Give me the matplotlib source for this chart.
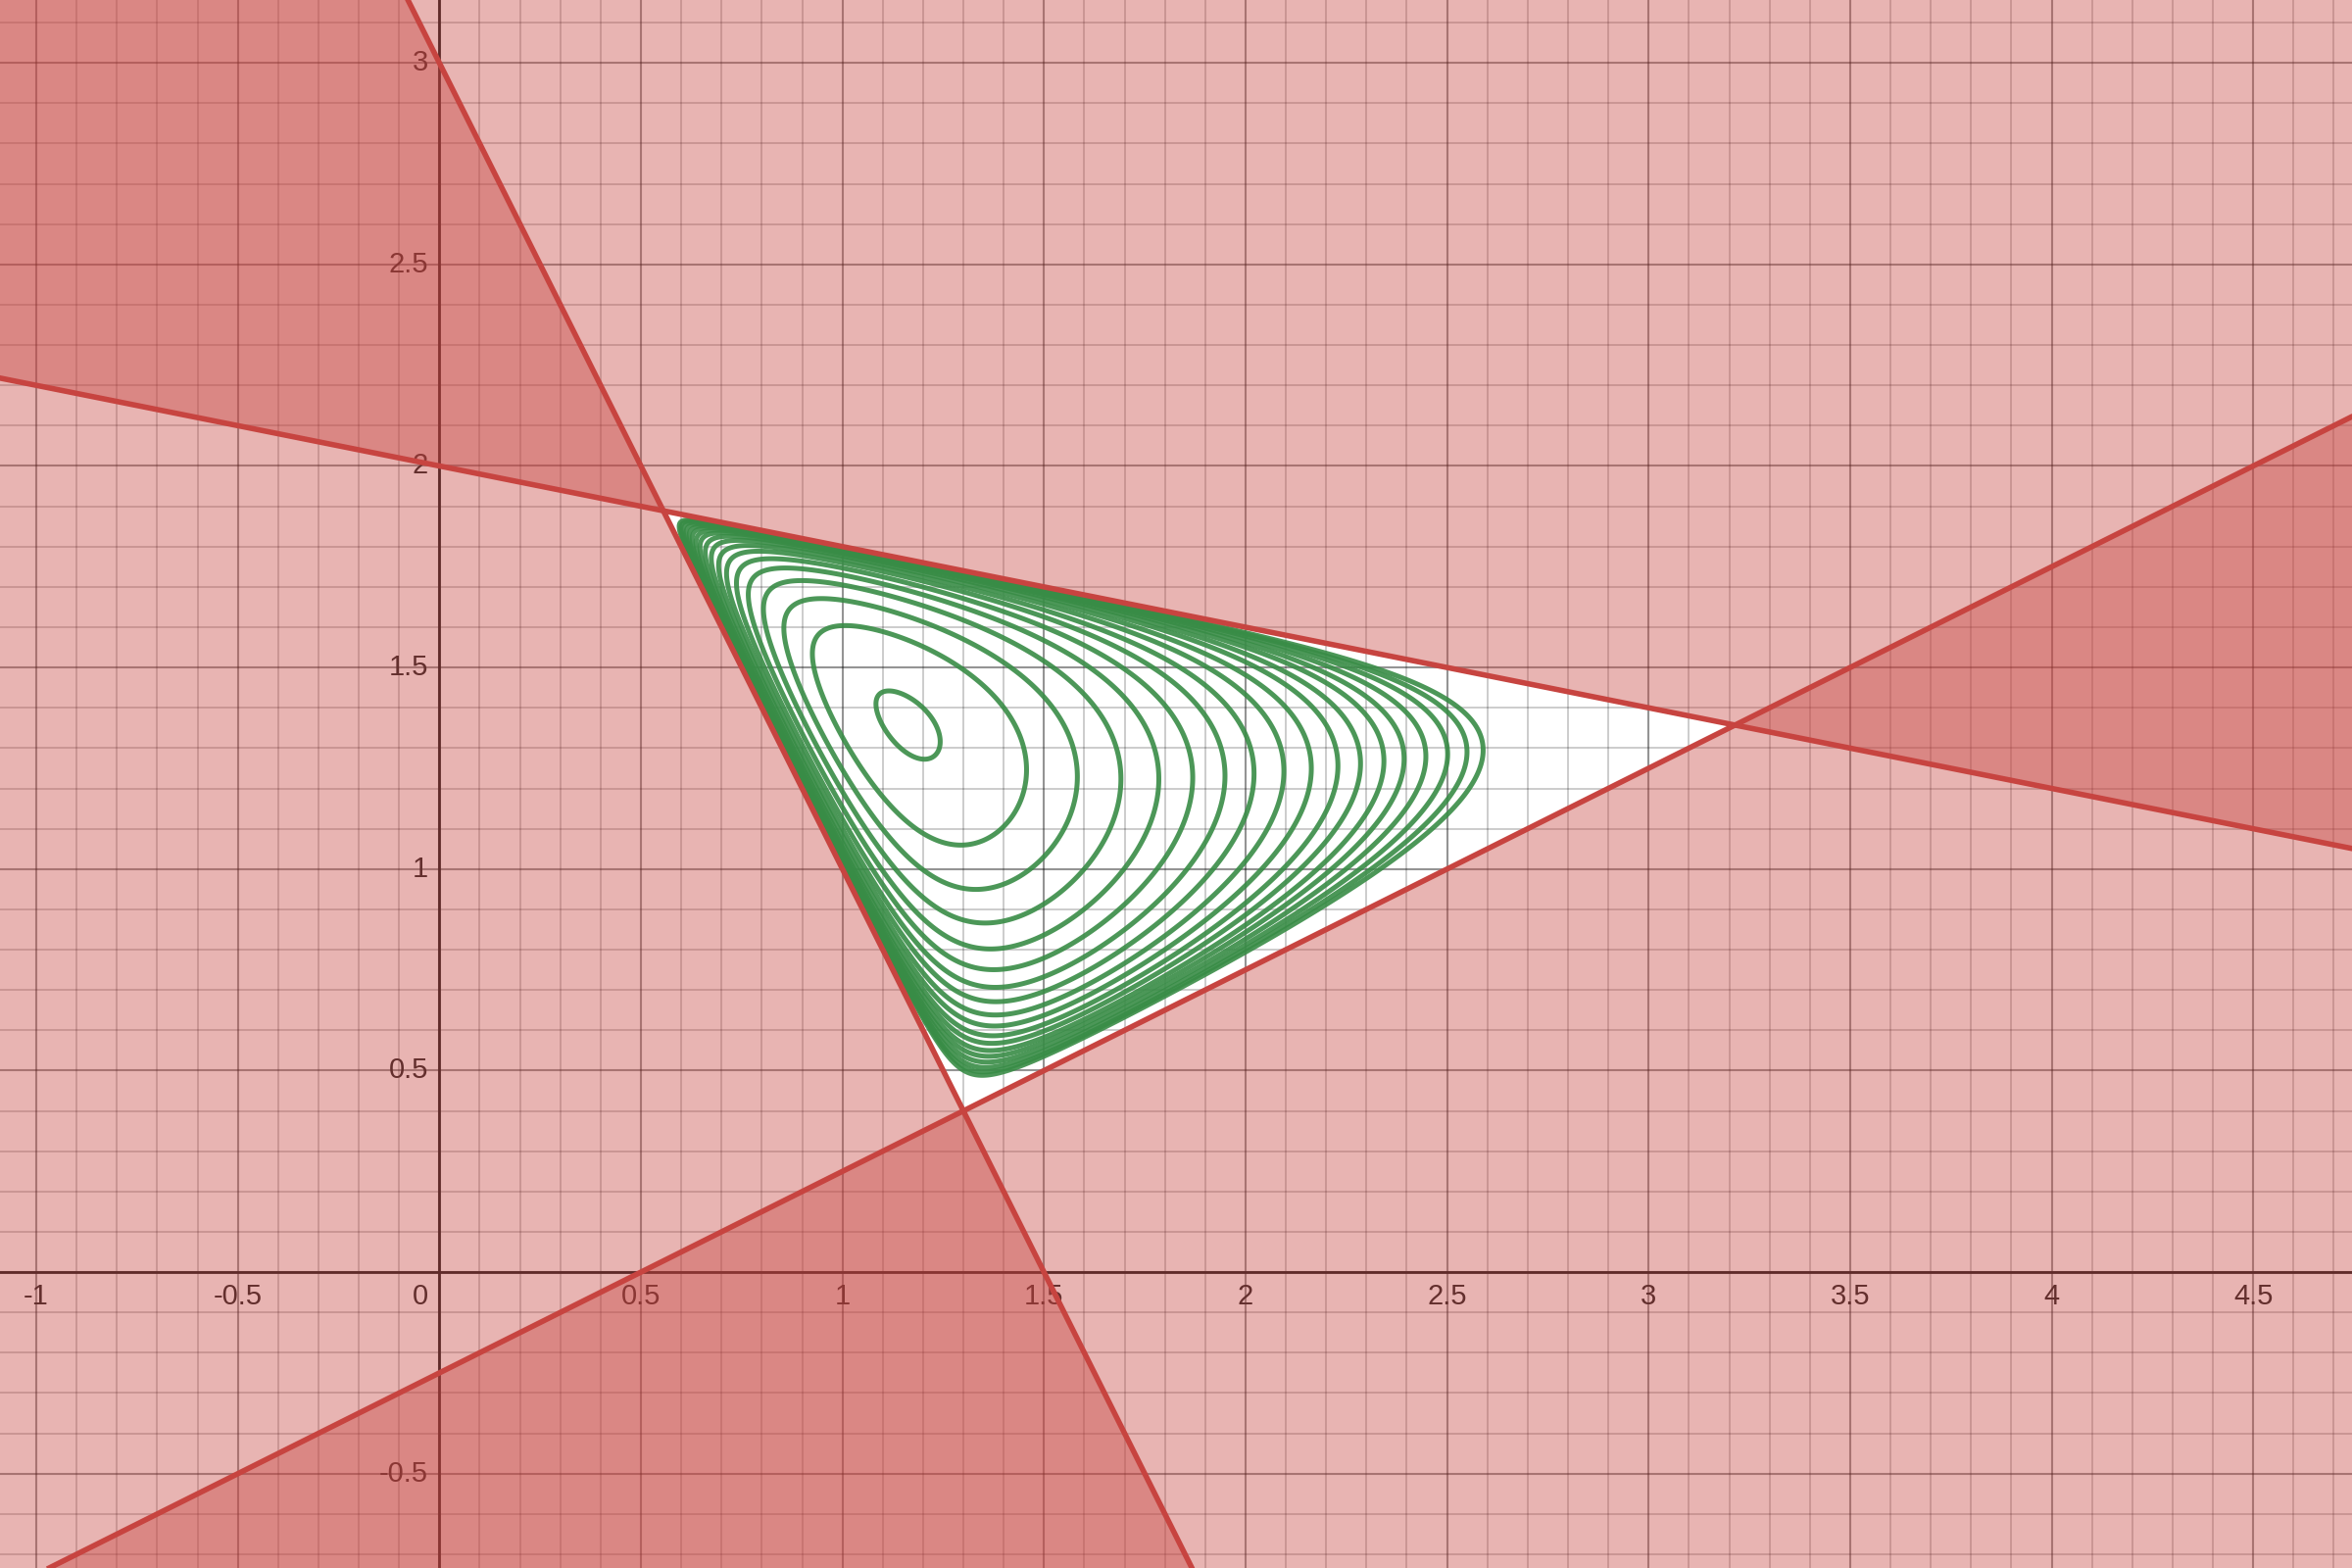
import numpy as np
import matplotlib.pyplot as plt

# 三条边界直线 y = k*x + b
LINE_SLOPES = [-2.0, -0.2, 0.5]
LINE_INTERCEPTS = [3.0, 2.0, -0.25]
# 每条直线被涂色的一侧: -1 表示 y < 直线, +1 表示 y > 直线
SHADE_SIDES = [-1, 1, -1]

# 首积分 L1^a * L2^b * L3^c * exp(-(d*x + e*y)) 的参数
EXPONENTS = [0.231, 0.183, 0.265]
EXP_COEFS = [0.461, 0.1485]
# 各条闭合等高线最右端的 x 坐标
TIP_X = [1.243, 1.456, 1.583, 1.690, 1.784, 1.869, 1.949, 2.022, 2.095,
         2.163, 2.229, 2.285, 2.343, 2.394, 2.448, 2.501, 2.550, 2.589]

X_TICKS = [-1, -0.5, 0.5, 1, 1.5, 2, 2.5, 3, 3.5, 4, 4.5]
Y_TICKS = [-0.5, 0.5, 1, 1.5, 2, 2.5, 3]

XLIM = (-1.090, 4.745)
YLIM = (-0.734, 3.156)

RED = '#c74440'
GREEN = '#388c46'
LABEL = '#222222'

plt.rcParams['font.family'] = ['Liberation Sans', 'DejaVu Sans']


def first_integral(x, y):
    l1 = 2.0 * x + y - 3.0
    l2 = 2.0 - 0.2 * x - y
    l3 = y - 0.5 * x + 0.25
    inside = (l1 > 0) & (l2 > 0) & (l3 > 0)
    f = np.zeros_like(x)
    a, b, c = EXPONENTS
    d, e = EXP_COEFS
    f[inside] = (l1[inside] ** a) * (l2[inside] ** b) * (l3[inside] ** c) \
        * np.exp(-(d * x[inside] + e * y[inside]))
    return f


fig = plt.figure(figsize=(12, 8), dpi=200)
ax = fig.add_axes([0, 0, 1, 1])
ax.set_xlim(*XLIM)
ax.set_ylim(*YLIM)

# 网格
for v in np.arange(-1.0, 4.8, 0.1):
    major = abs(v * 2 - round(v * 2)) < 1e-6
    ax.axvline(v, color='#000000', alpha=0.42 if major else 0.2,
               lw=0.75 if major else 0.7, zorder=1)
for v in np.arange(-0.7, 3.2, 0.1):
    major = abs(v * 2 - round(v * 2)) < 1e-6
    ax.axhline(v, color='#000000', alpha=0.42 if major else 0.2,
               lw=0.75 if major else 0.7, zorder=1)
ax.axhline(0, color='#1a1a1a', lw=1.0, zorder=2)
ax.axvline(0, color='#1a1a1a', lw=1.0, zorder=2)

# 坐标标签
FS = 10.5
for v in X_TICKS:
    ax.text(v, -0.026, f"{v:g}", ha='center', va='top', fontsize=FS,
            color=LABEL, zorder=3)
ax.text(-0.028, -0.026, "0", ha='right', va='top', fontsize=FS, color=LABEL, zorder=3)
for v in Y_TICKS:
    ax.text(-0.028, v, f"{v:g}", ha='right', va='center', fontsize=FS,
            color=LABEL, zorder=3)

# 半平面着色
xs = np.linspace(XLIM[0] - 1, XLIM[1] + 1, 400)
for k, b, side in zip(LINE_SLOPES, LINE_INTERCEPTS, SHADE_SIDES):
    yl = k * xs + b
    if side < 0:
        ax.fill_between(xs, -50, yl, color=RED, alpha=0.4, lw=0, zorder=4)
    else:
        ax.fill_between(xs, yl, 50, color=RED, alpha=0.4, lw=0, zorder=4)

# 绿色等高线
gx = np.linspace(0.5, 3.3, 1400)
gy = np.linspace(0.35, 1.95, 900)
GX, GY = np.meshgrid(gx, gy)
F = first_integral(GX, GY)
levels = []
for tx in TIP_X:
    col = np.argmin(np.abs(gx - tx))
    levels.append(F[:, col].max())
levels = sorted(levels)
ax.contour(GX, GY, F, levels=levels, colors=GREEN, linewidths=1.8,
           alpha=0.9, zorder=5)

# 边界直线
for k, b in zip(LINE_SLOPES, LINE_INTERCEPTS):
    ax.plot(xs, k * xs + b, color=RED, lw=2.0, zorder=6, solid_capstyle='butt')

ax.axis('off')
fig.savefig('out.png', dpi=200)
